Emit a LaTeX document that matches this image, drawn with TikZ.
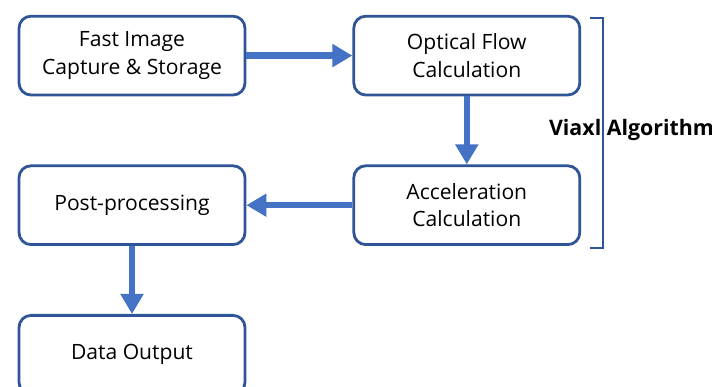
\documentclass[tikz,border=0pt]{standalone}
\usepackage{fontspec}
\setmainfont{Open Sans}
\usetikzlibrary{arrows.meta,positioning}
\definecolor{boxblue}{RGB}{47,85,151}
\definecolor{arrowblue}{RGB}{68,114,196}

\begin{document}
\begin{tikzpicture}[>={Triangle[width=0.55cm,length=0.5cm]}, node distance=1.7cm and 2.65cm]
\tikzset{
  box/.style={draw=boxblue, line width=0.07cm, fill=white, rounded corners=3mm, align=center, minimum width=5.65cm, minimum height=1.97cm, inner sep=0pt, font=\fontsize{15}{19.5}\selectfont},
  flowarrow/.style={->, line width=0.16cm, arrowblue}
}
\clip (0,0) rectangle (17.8,-9.675);
\node[box] (cap) at (3.3,-1.39) {Fast Image\\Capture \& Storage};
\node[box, right=of cap] (optflow) {Optical Flow\\Calculation};
\node[box, below=of optflow] (accel) {Acceleration\\Calculation};
\node[box, below=of cap] (post) {Post-processing};
\node[box, below=of post] (out) {Data Output};
\draw[flowarrow] (cap) -- (optflow);
\draw[flowarrow] (optflow) -- (accel);
\draw[flowarrow] (accel) -- (post);
\draw[flowarrow] (post) -- (out);
% bracket round the algorithm part
\coordinate (brtop) at (15.075,-0.45);
\coordinate (brbot) at (15.075,-6.2);
\draw[boxblue, line width=0.05cm] (brtop) ++(-0.33,0) -- (brtop) -- (brbot) -- ++(-0.33,0);
\node[anchor=west, inner sep=0pt, font=\fontsize{15.2}{19}\selectfont\bfseries] (algo) at (13.72,-3.25) {Viaxl Algorithm};
\end{tikzpicture}
\end{document}
